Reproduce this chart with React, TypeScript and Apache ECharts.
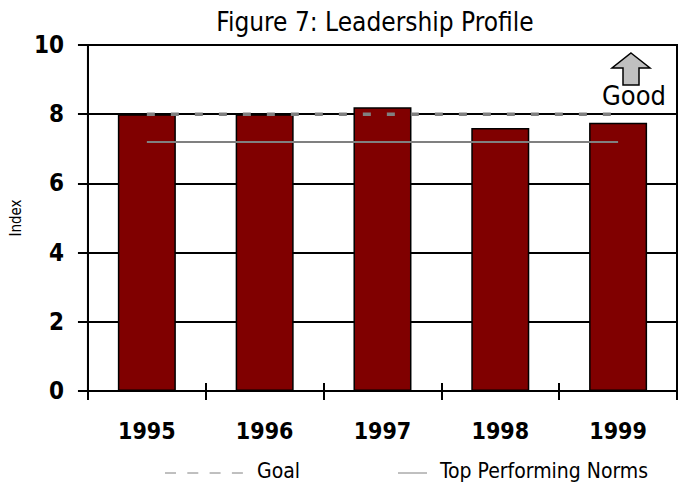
import React, { useEffect, useRef } from "react";
import * as echarts from "echarts";

const categories = ["1995", "1996", "1997", "1998", "1999"];
const indexValues = [8.0, 8.0, 8.2, 7.6, 7.75];
const goalValues = [8, 8, 8, 8, 8];
const normValues = [7.2, 7.2, 7.2, 7.2, 7.2];
const yTicks = [0, 2, 4, 6, 8, 10];

const FONT = "'DejaVu Sans Condensed', 'Liberation Sans Narrow', 'DejaVu Sans', sans-serif";

export default function App() {
  const ref = useRef<HTMLDivElement>(null);
  useEffect(() => {
    if (!ref.current) return;
    const chart = echarts.init(ref.current, null, { renderer: "svg" });
    const option: any = {
      animation: false,
      backgroundColor: "#ffffff",
      title: {
        text: "Figure 7: Leadership Profile",
        left: 370,
        textAlign: "center",
        top: 4,
        textStyle: { fontFamily: FONT, fontSize: 26, fontWeight: "normal", color: "#000" },
      },
      grid: {
        left: 85,
        right: 7,
        top: 45,
        bottom: 97,
        show: true,
        borderColor: "#000",
        borderWidth: 2,
        backgroundColor: "transparent",
      },
      xAxis: [
        {
          type: "category",
          data: categories,
          position: "bottom",
          axisLine: { show: true, lineStyle: { color: "#000", width: 2 } },
          axisTick: { show: true, length: 9, lineStyle: { color: "#000", width: 2 } },
          axisLabel: {
            margin: 28,
            fontFamily: FONT,
            fontSize: 23,
            fontWeight: "bold",
            color: "#000",
          },
        },
        {
          type: "category",
          data: categories,
          position: "bottom",
          axisLine: { show: false },
          axisTick: { show: true, inside: true, length: 8, lineStyle: { color: "#000", width: 2 } },
          axisLabel: { show: false },
        },
      ],
      yAxis: {
        type: "value",
        min: 0,
        max: 10,
        interval: 2,
        name: "Index",
        nameLocation: "middle",
        nameGap: 62,
        nameRotate: 90,
        nameTextStyle: { fontFamily: FONT, fontSize: 15, color: "#000" },
        axisLine: { show: true, lineStyle: { color: "#000", width: 2 } },
        axisTick: { show: true, length: 10, lineStyle: { color: "#000", width: 2 } },
        splitLine: { show: true, lineStyle: { color: "#000", width: 2 } },
        axisLabel: {
          margin: 24,
          fontFamily: FONT,
          fontSize: 24,
          fontWeight: "bold",
          color: "#000",
          formatter: (v: number) => (yTicks.includes(v) ? String(v) : ""),
        },
      },
      series: [
        {
          name: "Index",
          type: "bar",
          data: indexValues,
          barWidth: 58,
          itemStyle: { color: "#800000", borderColor: "#000", borderWidth: 1.5 },
          z: 2,
        },
        {
          name: "Goal",
          type: "line",
          data: goalValues,
          symbol: "none",
          lineStyle: { color: "#808080", width: 3.5, type: [8, 16] },
          z: 3,
        },
        {
          name: "Top Performing Norms",
          type: "line",
          data: normValues,
          symbol: "none",
          lineStyle: { color: "#808080", width: 2, type: "solid" },
          z: 3,
        },
      ],
      graphic: [
        {
          type: "polygon",
          shape: {
            points: [
              [631, 53],
              [650, 68],
              [639, 68],
              [639, 85],
              [623, 85],
              [623, 68],
              [612, 68],
            ],
          },
          style: { fill: "#c0c0c0", stroke: "#000", lineWidth: 1.5 },
          z: 10,
        },
        {
          type: "text",
          x: 634,
          y: 95,
          style: {
            text: "Good",
            fontFamily: FONT,
            fontSize: 27,
            fill: "#000",
            textAlign: "center",
            textVerticalAlign: "middle",
          },
          z: 11,
        },
        {
          type: "line",
          shape: { x1: 165, y1: 473, x2: 243, y2: 473 },
          style: { stroke: "#808080", lineWidth: 1, lineDash: [11, 11.3] },
        },
        {
          type: "text",
          x: 257,
          y: 471,
          style: {
            text: "Goal",
            fontFamily: FONT,
            fontSize: 21,
            fill: "#000",
            textAlign: "left",
            textVerticalAlign: "middle",
          },
        },
        {
          type: "line",
          shape: { x1: 398, y1: 473, x2: 427, y2: 473 },
          style: { stroke: "#808080", lineWidth: 1 },
        },
        {
          type: "text",
          x: 440,
          y: 471,
          style: {
            text: "Top Performing Norms",
            fontFamily: FONT,
            fontSize: 21,
            fill: "#000",
            textAlign: "left",
            textVerticalAlign: "middle",
          },
        },
      ],
    };
    chart.setOption(option);
    return () => chart.dispose();
  }, []);
  return (
    <div
      ref={ref}
      style={{ position: "fixed", left: 0, top: 0, width: 684, height: 488, background: "#fff" }}
    />
  );
}
